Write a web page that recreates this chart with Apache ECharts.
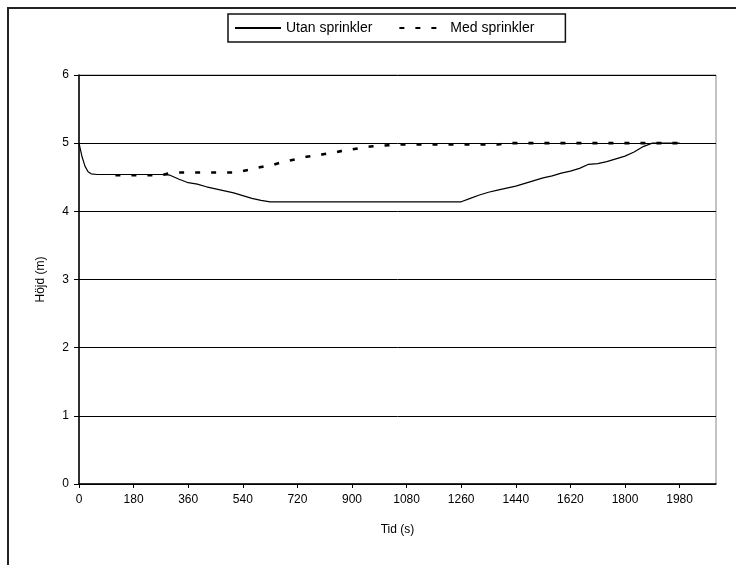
<!DOCTYPE html>
<html>
<head>
<meta charset="utf-8">
<script src="https://cdn.jsdelivr.net/npm/echarts@6/dist/echarts.min.js"></script>
<style>
  html, body { margin: 0; padding: 0; background: #fff; }
  #chart { width: 736px; height: 565px; }
</style>
</head>
<body>
<div id="chart"></div>
<script>
// Brandgaslagrets höjd över tid, med och utan sprinkler
var utanTid = [0, 10, 20, 30, 40,
  60, 90, 120, 150, 180, 210, 240, 270, 300,
  330, 360, 390, 420, 450, 480, 510, 540, 570, 600, 630,
  660, 690, 720, 750, 780, 810, 840, 870, 900, 930, 960, 990, 1020, 1050, 1080, 1110, 1140, 1170, 1200, 1230, 1260,
  1290, 1320, 1350, 1380, 1410, 1440, 1470, 1500, 1530, 1560, 1590, 1620, 1650, 1680, 1710, 1740, 1770, 1800, 1830, 1860, 1890, 1920, 1950, 1980];
var utanHojd = [5.00, 4.80, 4.66, 4.58, 4.55,
  4.54, 4.54, 4.54, 4.54, 4.54, 4.54, 4.54, 4.54, 4.53,
  4.47, 4.42, 4.40, 4.36, 4.33, 4.30, 4.27, 4.23, 4.19, 4.16, 4.14,
  4.14, 4.14, 4.14, 4.14, 4.14, 4.14, 4.14, 4.14, 4.14, 4.14, 4.14, 4.14, 4.14, 4.14, 4.14, 4.14, 4.14, 4.14, 4.14, 4.14, 4.14,
  4.19, 4.24, 4.28, 4.31, 4.34, 4.37, 4.41, 4.45, 4.49, 4.52, 4.56, 4.59, 4.63, 4.69, 4.70, 4.73, 4.77, 4.81, 4.87, 4.95, 5.00, 5.00, 5.00, 5.00];

var medTid = [120, 150, 180, 210, 240, 270,
  300,
  330, 360, 390, 420, 450, 480, 510,
  540, 570, 600, 630, 660, 690, 720, 750, 780, 810, 840, 870, 900, 930, 960, 990, 1020, 1050,
  1080, 1110, 1140, 1170, 1200, 1230, 1260, 1290, 1320, 1350, 1380,
  1410, 1440, 1470, 1500, 1530, 1560, 1590, 1620, 1650, 1680, 1710, 1740, 1770, 1800, 1830, 1860, 1890, 1920, 1950, 1980];
var medHojd = [4.53, 4.53, 4.53, 4.53, 4.53, 4.53,
  4.56,
  4.57, 4.57, 4.57, 4.57, 4.57, 4.57, 4.57,
  4.59, 4.62, 4.65, 4.67, 4.71, 4.74, 4.77, 4.80, 4.82, 4.84, 4.86, 4.89, 4.91, 4.93, 4.95, 4.96, 4.97, 4.98,
  4.98, 4.98, 4.98, 4.98, 4.98, 4.98, 4.98, 4.98, 4.98, 4.98, 4.98,
  5.00, 5.00, 5.00, 5.00, 5.00, 5.00, 5.00, 5.00, 5.00, 5.00, 5.00, 5.00, 5.00, 5.00, 5.00, 5.00, 5.00, 5.00, 5.00, 5.00];

var serieNamn = ['Utan sprinkler', 'Med sprinkler'];
var xTitel = 'Tid (s)';
var yTitel = 'Höjd (m)';

function par(t, h) {
  return t.map(function (v, i) { return [v, h[i]]; });
}

var font = '"Liberation Sans", Arial, sans-serif';
var chart = echarts.init(document.getElementById('chart'), null, { renderer: 'canvas' });

chart.setOption({
  backgroundColor: '#fff',
  animation: false,
  textStyle: { fontFamily: font, color: '#000' },
  graphic: [{
    type: 'rect',
    shape: { x: 8, y: 8, width: 760, height: 620 },
    style: { fill: 'none', stroke: '#222', lineWidth: 2 },
    silent: true,
    z: -10
  }],
  legend: {
    left: 228,
    top: 14,
    itemWidth: 46,
    itemHeight: 14,
    itemGap: 26,
    padding: [7, 31, 7, 6],
    borderColor: '#111',
    borderWidth: 1.5,
    backgroundColor: '#fff',
    itemStyle: { opacity: 0 },
    textStyle: { fontFamily: font, fontSize: 14, color: '#000' },
    data: serieNamn
  },
  grid: {
    left: 79,
    right: 20,
    top: 75,
    bottom: 81,
    show: true,
    borderColor: '#888',
    borderWidth: 1,
    containLabel: false
  },
  xAxis: {
    type: 'value',
    min: 0,
    max: 2100,
    interval: 180,
    name: xTitel,
    nameLocation: 'middle',
    nameGap: 40,
    nameTextStyle: { fontFamily: font, fontSize: 12, color: '#000' },
    axisLine: { show: true, onZero: false, lineStyle: { color: '#000', width: 1.5 } },
    axisTick: { show: true, inside: false, length: 4, lineStyle: { color: '#000' } },
    axisLabel: {
      fontFamily: font, fontSize: 12, color: '#000', margin: 10, showMaxLabel: false,
      formatter: function (v) { return String(v); }
    },
    splitLine: { show: false }
  },
  yAxis: {
    type: 'value',
    min: 0,
    max: 6,
    interval: 1,
    name: yTitel,
    nameLocation: 'middle',
    nameGap: 32,
    nameRotate: 90,
    nameTextStyle: { fontFamily: font, fontSize: 12, color: '#000' },
    axisLine: { show: true, lineStyle: { color: '#000', width: 1.5 } },
    axisTick: { show: true, inside: false, length: 5, lineStyle: { color: '#000' } },
    axisLabel: { fontFamily: font, fontSize: 12, color: '#000', margin: 10 },
    splitLine: { show: true, lineStyle: { color: '#000', width: 1 } }
  },
  series: [
    {
      name: serieNamn[0],
      type: 'line',
      data: par(utanTid, utanHojd),
      symbol: 'none',
      smooth: false,
      lineStyle: { color: '#000', width: 1.2, type: 'solid' },
      itemStyle: { color: '#000' },
      z: 3
    },
    {
      name: serieNamn[1],
      type: 'line',
      data: par(medTid, medHojd),
      symbol: 'none',
      smooth: false,
      lineStyle: { color: '#000', width: 2.6, type: [5, 11] },
      itemStyle: { color: '#000' },
      z: 4
    }
  ]
});
</script>
</body>
</html>
